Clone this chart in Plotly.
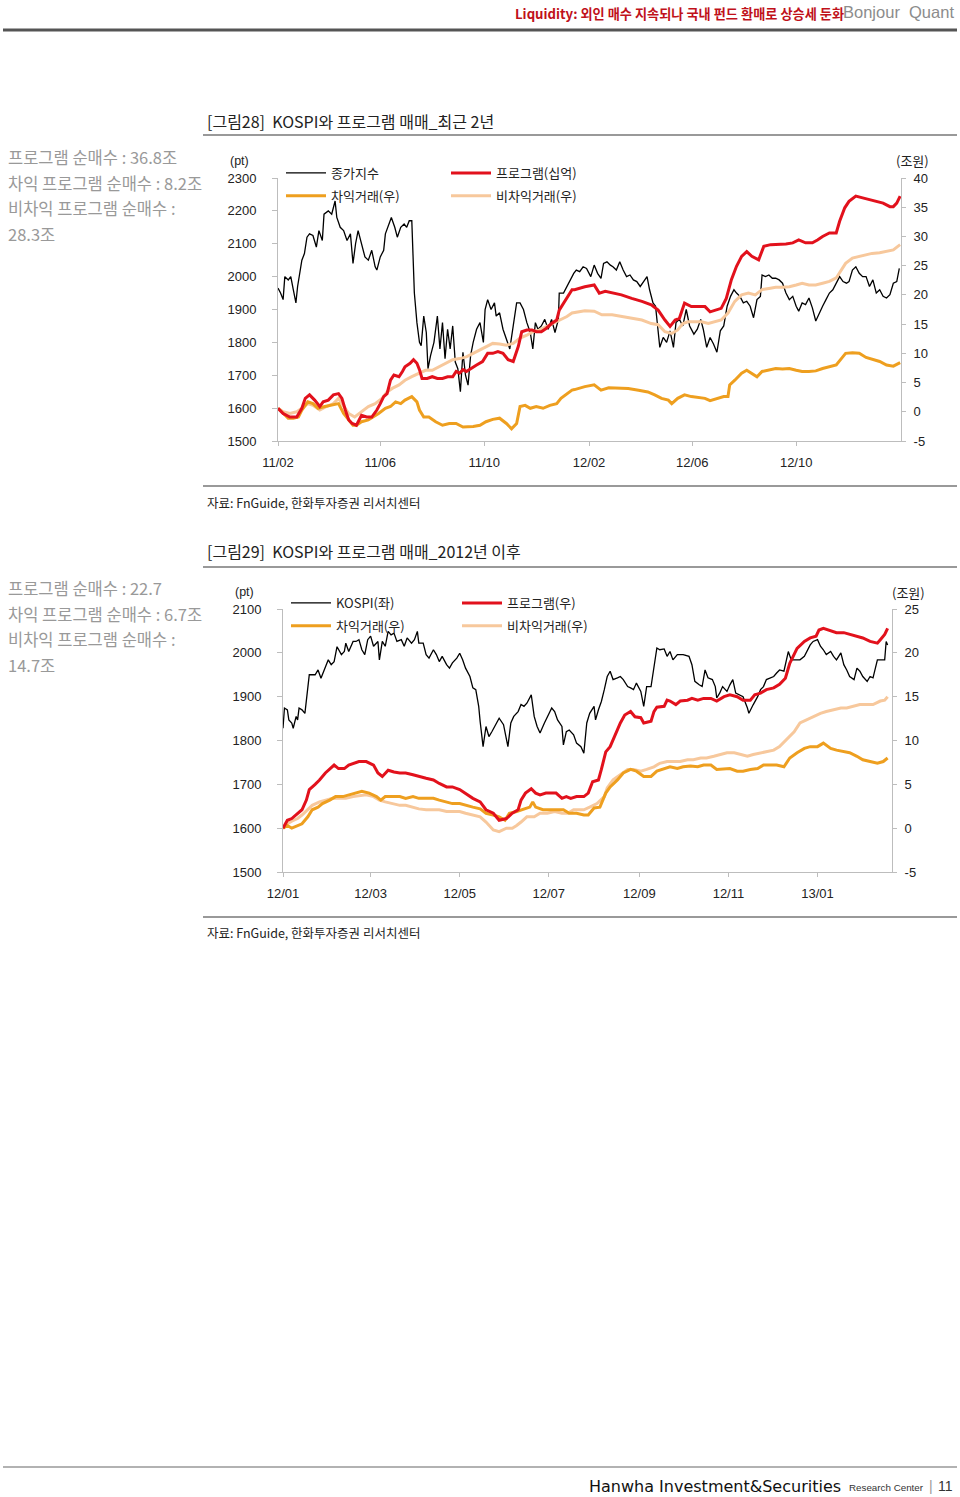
import plotly.graph_objects as go

# ---------------- DATA ----------------
# Chart 28: KOSPI (pt, left axis) and program trading (trillion won, right axis)
kospi_1 = [
    ("2011-02-01",1965),("2011-02-04",1950),("2011-02-07",1930),("2011-02-09",2000),("2011-02-13",1990),
    ("2011-02-16",2000),("2011-02-19",1960),("2011-02-22",1920),("2011-02-24",1970),("2011-02-26",2000),
    ("2011-03-01",2050),("2011-03-04",2070),("2011-03-07",2120),("2011-03-10",2130),("2011-03-14",2125),
    ("2011-03-18",2090),("2011-03-21",2140),("2011-03-25",2110),("2011-03-27",2190),("2011-04-01",2200),
    ("2011-04-05",2190),("2011-04-09",2230),("2011-04-11",2180),("2011-04-15",2150),("2011-04-19",2140),
    ("2011-04-23",2110),("2011-04-27",2130),("2011-04-30",2040),("2011-05-03",2100),("2011-05-06",2140),
    ("2011-05-10",2100),("2011-05-14",2060),("2011-05-18",2050),("2011-05-22",2080),("2011-05-26",2030),
    ("2011-05-28",2020),("2011-06-01",2060),("2011-06-05",2080),("2011-06-07",2130),("2011-06-11",2160),
    ("2011-06-14",2180),("2011-06-18",2150),("2011-06-21",2120),("2011-06-25",2150),("2011-06-29",2160),
    ("2011-07-02",2150),("2011-07-05",2170),("2011-07-08",2170),("2011-07-11",1950),("2011-07-14",1860),
    ("2011-07-17",1800),("2011-07-19",1790),("2011-07-22",1880),("2011-07-25",1830),("2011-07-27",1720),
    ("2011-07-30",1760),("2011-08-03",1800),("2011-08-07",1880),("2011-08-10",1780),("2011-08-13",1860),
    ("2011-08-16",1750),("2011-08-19",1840),("2011-08-22",1780),("2011-08-25",1850),("2011-08-28",1740),
    ("2011-08-31",1720),("2011-09-03",1650),("2011-09-06",1770),("2011-09-09",1700),("2011-09-12",1670),
    ("2011-09-15",1760),("2011-09-18",1800),("2011-09-22",1840),("2011-09-26",1860),("2011-09-30",1800),
    ("2011-10-02",1900),("2011-10-05",1930),("2011-10-09",1900),("2011-10-13",1920),("2011-10-15",1880),
    ("2011-10-19",1890),("2011-10-23",1840),("2011-10-27",1810),("2011-10-31",1780),("2011-11-04",1850),
    ("2011-11-08",1920),("2011-11-12",1920),("2011-11-16",1900),("2011-11-20",1860),("2011-11-24",1830),
    ("2011-11-27",1780),("2011-11-30",1860),("2011-12-03",1840),("2011-12-07",1850),("2011-12-11",1870),
    ("2011-12-15",1840),("2011-12-19",1870),("2011-12-23",1830),("2011-12-27",1870),("2011-12-28",1950),
    ("2012-01-02",1950),("2012-01-06",1970),("2012-01-10",1990),("2012-01-14",2010),("2012-01-17",2020),
    ("2012-01-21",2015),("2012-01-25",2030),("2012-01-29",2025),("2012-02-03",2000),("2012-02-07",2035),
    ("2012-02-11",2010),("2012-02-15",1995),("2012-02-18",2040),("2012-02-22",2045),("2012-02-26",2035),
    ("2012-02-29",2030),("2012-03-04",2020),("2012-03-08",2045),("2012-03-12",2020),("2012-03-16",2000),
    ("2012-03-20",2005),("2012-03-24",1990),("2012-03-28",1985),("2012-04-01",1970),("2012-04-05",1985),
    ("2012-04-09",2000),("2012-04-12",1960),("2012-04-16",1920),("2012-04-19",1910),("2012-04-24",1785),
    ("2012-04-28",1815),("2012-05-02",1800),("2012-05-06",1835),("2012-05-10",1785),("2012-05-13",1860),
    ("2012-05-17",1870),("2012-05-21",1850),("2012-05-25",1900),("2012-05-29",1850),("2012-06-03",1825),
    ("2012-06-07",1840),("2012-06-11",1870),("2012-06-14",1840),("2012-06-18",1785),("2012-06-22",1815),
    ("2012-06-26",1795),("2012-06-30",1770),("2012-07-04",1835),("2012-07-08",1850),("2012-07-12",1910),
    ("2012-07-16",1940),("2012-07-20",1960),("2012-07-23",1950),("2012-07-27",1940),("2012-07-31",1920),
    ("2012-08-04",1925),("2012-08-08",1910),("2012-08-12",1875),("2012-08-16",1930),("2012-08-20",1940),
    ("2012-08-22",2005),("2012-08-26",2000),("2012-08-30",2005),("2012-09-03",1995),("2012-09-07",1995),
    ("2012-09-11",1990),("2012-09-15",1980),("2012-09-19",1950),("2012-09-23",1930),("2012-09-27",1940),
    ("2012-10-01",1910),("2012-10-04",1895),("2012-10-08",1920),("2012-10-12",1915),("2012-10-16",1935),
    ("2012-10-20",1905),("2012-10-24",1865),("2012-10-28",1890),("2012-11-01",1910),("2012-11-05",1930),
    ("2012-11-09",1950),("2012-11-13",1960),("2012-11-17",1980),("2012-11-21",2000),("2012-11-25",1985),
    ("2012-11-29",1980),("2012-12-02",1985),("2012-12-06",2020),("2012-12-10",2030),("2012-12-14",2010),
    ("2012-12-18",2000),("2012-12-22",2000),("2012-12-26",1970),("2012-12-30",1990),("2013-01-03",1950),
    ("2013-01-07",1960),("2013-01-11",1940),("2013-01-15",1935),("2013-01-19",1945),("2013-01-23",1980),
    ("2013-01-27",1985),("2013-01-29",2020),("2013-01-30",2025),
]
prog_1 = [
    ("2011-02-01",0.6),("2011-02-07",-0.3),("2011-02-15",-0.9),("2011-02-23",-0.9),("2011-03-01",0.6),
    ("2011-03-05",2.3),("2011-03-10",2.9),("2011-03-16",2.0),("2011-03-22",0.9),("2011-03-26",1.7),
    ("2011-04-01",2.0),("2011-04-07",2.9),("2011-04-13",3.1),("2011-04-17",2.3),("2011-04-21",0.3),
    ("2011-04-25",-1.4),("2011-04-29",-2.0),("2011-05-04",-2.3),("2011-05-10",-0.6),("2011-05-16",-0.9),
    ("2011-05-22",-0.9),("2011-05-28",0.3),("2011-06-01",1.4),("2011-06-05",2.6),("2011-06-09",3.1),
    ("2011-06-13",5.4),("2011-06-17",6.3),("2011-06-23",6.0),("2011-06-27",6.9),("2011-06-30",7.7),
    ("2011-07-06",8.3),("2011-07-10",8.9),("2011-07-14",8.3),("2011-07-17",7.2),("2011-07-20",5.7),
    ("2011-07-26",5.7),("2011-08-01",6.0),("2011-08-07",5.7),("2011-08-13",5.7),("2011-08-19",6.0),
    ("2011-08-25",6.0),("2011-08-29",6.9),("2011-09-02",6.6),("2011-09-06",7.2),("2011-09-10",6.9),
    ("2011-09-16",7.5),("2011-09-22",8.0),("2011-09-29",8.6),("2011-10-05",10.0),("2011-10-11",10.0),
    ("2011-10-17",10.3),("2011-10-23",10.0),("2011-10-29",8.9),("2011-11-04",8.6),("2011-11-10",11.2),
    ("2011-11-14",13.7),("2011-11-20",14.0),("2011-11-26",14.0),("2011-12-01",13.7),("2011-12-07",13.7),
    ("2011-12-13",14.3),("2011-12-19",15.1),("2011-12-25",15.7),("2011-12-28",17.4),("2012-01-02",18.6),
    ("2012-01-06",19.7),("2012-01-12",20.9),("2012-01-15",20.9),("2012-01-27",21.4),("2012-02-07",21.7),
    ("2012-02-13",20.3),("2012-02-20",20.6),("2012-02-28",20.3),("2012-03-10",20.0),("2012-03-22",19.4),
    ("2012-04-03",18.9),("2012-04-14",18.3),("2012-04-22",17.4),("2012-04-30",15.7),("2012-05-06",14.6),
    ("2012-05-12",15.7),("2012-05-17",16.0),("2012-05-23",18.6),("2012-05-31",18.0),("2012-06-08",18.0),
    ("2012-06-16",18.0),("2012-06-22",17.1),("2012-06-30",17.4),("2012-07-05",17.7),("2012-07-11",19.4),
    ("2012-07-17",22.6),("2012-07-23",24.9),("2012-07-29",26.6),("2012-08-04",27.4),("2012-08-10",26.6),
    ("2012-08-18",26.0),("2012-08-24",28.3),("2012-09-01",28.6),("2012-09-11",28.6),("2012-09-19",28.7),
    ("2012-09-27",28.9),("2012-10-04",29.4),("2012-10-12",28.9),("2012-10-20",28.9),("2012-10-26",29.4),
    ("2012-11-01",30.0),("2012-11-09",30.6),("2012-11-17",30.6),("2012-11-21",32.6),("2012-11-27",34.9),
    ("2012-12-02",36.0),("2012-12-10",36.9),("2012-12-18",36.6),("2012-12-25",36.3),("2013-01-03",36.0),
    ("2013-01-11",35.7),("2013-01-19",35.1),("2013-01-23",35.1),("2013-01-27",35.7),("2013-01-31",36.9),
]
arb_1 = [
    ("2011-02-01",0.6),("2011-02-07",-0.3),("2011-02-13",-1.1),("2011-02-19",-1.1),("2011-02-25",-0.9),
    ("2011-03-01",0.3),("2011-03-08",1.7),("2011-03-14",1.4),("2011-03-20",0.6),("2011-03-28",0.9),
    ("2011-04-05",1.1),("2011-04-13",1.4),("2011-04-19",-0.3),("2011-04-25",-1.4),("2011-04-30",-2.3),
    ("2011-05-04",-2.3),("2011-05-10",-1.7),("2011-05-18",-1.4),("2011-05-24",-0.9),("2011-05-30",-0.3),
    ("2011-06-07",0.6),("2011-06-13",0.9),("2011-06-19",1.7),("2011-06-25",1.4),("2011-06-30",2.0),
    ("2011-07-08",2.6),("2011-07-14",1.7),("2011-07-17",0.3),("2011-07-22",-0.9),("2011-07-28",-0.9),
    ("2011-08-05",-1.7),("2011-08-13",-2.3),("2011-08-21",-2.0),("2011-08-29",-2.0),("2011-09-06",-2.6),
    ("2011-09-12",-2.6),("2011-09-18",-2.5),("2011-09-26",-2.3),("2011-10-03",-1.7),("2011-10-11",-1.3),
    ("2011-10-19",-1.1),("2011-10-27",-2.0),("2011-11-02",-2.9),("2011-11-08",-2.0),("2011-11-12",0.9),
    ("2011-11-18",1.1),("2011-11-24",0.6),("2011-12-01",0.9),("2011-12-09",0.6),("2011-12-17",1.1),
    ("2011-12-25",1.4),("2011-12-30",2.3),("2012-01-06",3.1),("2012-01-12",3.7),("2012-01-15",3.8),
    ("2012-01-27",4.3),("2012-02-07",4.6),("2012-02-15",3.7),("2012-02-24",4.1),("2012-03-06",4.0),
    ("2012-03-18",4.0),("2012-03-30",3.7),("2012-04-10",3.4),("2012-04-18",2.9),("2012-04-26",2.3),
    ("2012-05-04",2.0),("2012-05-08",1.4),("2012-05-15",2.3),("2012-05-23",2.9),("2012-05-31",2.6),
    ("2012-06-08",2.5),("2012-06-16",2.3),("2012-06-22",1.9),("2012-06-30",2.3),("2012-07-08",2.6),
    ("2012-07-13",2.6),("2012-07-15",4.6),("2012-07-21",5.4),("2012-07-29",6.6),("2012-08-04",7.1),
    ("2012-08-10",6.6),("2012-08-16",6.0),("2012-08-22",6.9),("2012-08-30",7.1),("2012-09-07",7.4),
    ("2012-09-15",7.3),("2012-09-23",7.4),("2012-10-01",7.1),("2012-10-08",6.9),("2012-10-16",6.9),
    ("2012-10-24",7.0),("2012-11-01",7.4),("2012-11-09",7.7),("2012-11-17",8.0),("2012-11-23",9.1),
    ("2012-11-28",10.0),("2012-12-06",10.1),("2012-12-14",10.0),("2012-12-22",9.3),("2012-12-29",9.0),
    ("2013-01-07",8.6),("2013-01-15",8.0),("2013-01-23",7.8),("2013-01-31",8.4),
]
nonarb_1 = [
    ("2011-02-01",0.6),("2011-02-07",0.0),("2011-02-15",-0.3),("2011-02-23",0.0),("2011-03-01",0.6),
    ("2011-03-08",1.4),("2011-03-14",1.1),("2011-03-22",0.3),("2011-03-30",0.9),("2011-04-07",1.4),
    ("2011-04-13",2.3),("2011-04-19",0.9),("2011-04-25",-0.3),("2011-05-02",-0.9),("2011-05-10",0.0),
    ("2011-05-18",0.9),("2011-05-26",1.4),("2011-06-03",2.3),("2011-06-09",3.4),("2011-06-15",4.0),
    ("2011-06-23",4.6),("2011-06-30",5.4),("2011-07-08",6.0),("2011-07-16",6.6),("2011-07-24",7.1),
    ("2011-08-01",7.1),("2011-08-09",7.7),("2011-08-17",8.3),("2011-08-25",8.9),("2011-09-02",9.1),
    ("2011-09-10",9.4),("2011-09-18",10.0),("2011-09-26",10.6),("2011-10-03",11.1),("2011-10-11",11.7),
    ("2011-10-19",11.6),("2011-10-27",11.4),("2011-11-04",11.7),("2011-11-12",12.6),("2011-11-20",13.1),
    ("2011-11-27",13.7),("2011-12-05",14.0),("2011-12-13",14.6),("2011-12-21",15.1),("2011-12-28",15.7),
    ("2012-01-06",16.3),("2012-01-12",16.9),("2012-01-15",17.0),("2012-01-27",17.3),("2012-02-07",17.2),
    ("2012-02-16",16.6),("2012-02-28",16.6),("2012-03-10",16.3),("2012-03-22",16.0),("2012-04-03",15.7),
    ("2012-04-14",15.1),("2012-04-22",14.9),("2012-04-30",13.7),("2012-05-08",13.4),("2012-05-15",14.0),
    ("2012-05-21",15.1),("2012-05-27",15.4),("2012-06-04",15.4),("2012-06-12",15.4),("2012-06-20",15.1),
    ("2012-06-28",15.4),("2012-07-05",15.7),("2012-07-13",16.9),("2012-07-21",18.9),("2012-07-29",20.0),
    ("2012-08-06",20.3),("2012-08-14",20.0),("2012-08-22",20.9),("2012-08-30",21.1),("2012-09-07",21.3),
    ("2012-09-15",21.3),("2012-09-23",21.4),("2012-10-01",21.7),("2012-10-08",22.0),("2012-10-16",21.7),
    ("2012-10-24",21.7),("2012-11-01",22.0),("2012-11-09",22.3),("2012-11-17",22.9),("2012-11-23",24.3),
    ("2012-11-28",25.4),("2012-12-06",26.3),("2012-12-14",26.6),("2012-12-22",26.9),("2012-12-29",27.1),
    ("2013-01-07",27.2),("2013-01-15",27.5),("2013-01-23",27.7),("2013-01-31",28.6),
]

# Chart 29: since 2012
kospi_2 = [
    ("2012-01-01",1828),("2012-01-02",1874),("2012-01-04",1870),("2012-01-05",1847),("2012-01-07",1840),
    ("2012-01-08",1828),("2012-01-10",1855),("2012-01-11",1847),("2012-01-12",1874),("2012-01-14",1870),
    ("2012-01-16",1862),("2012-01-17",1897),("2012-01-19",1950),("2012-01-23",1950),("2012-01-25",1961),
    ("2012-01-27",1942),("2012-01-30",1965),("2012-02-01",1984),("2012-02-03",1973),("2012-02-05",1980),
    ("2012-02-07",2014),("2012-02-10",1996),("2012-02-12",2003),("2012-02-13",2022),("2012-02-15",2003),
    ("2012-02-18",2026),("2012-02-20",2026),("2012-02-22",2030),("2012-02-24",2007),("2012-02-26",1996),
    ("2012-02-28",2030),("2012-03-01",2038),("2012-03-03",2015),("2012-03-06",2026),("2012-03-07",1984),
    ("2012-03-09",2026),("2012-03-11",2015),("2012-03-13",2049),("2012-03-15",2041),("2012-03-17",2045),
    ("2012-03-19",2026),("2012-03-22",2030),("2012-03-24",2015),("2012-03-26",2034),("2012-03-29",2022),
    ("2012-03-31",2030),("2012-04-02",2049),("2012-04-03",2022),("2012-04-06",2022),("2012-04-08",1996),
    ("2012-04-10",1988),("2012-04-13",2007),("2012-04-15",1996),("2012-04-17",1980),("2012-04-19",1992),
    ("2012-04-22",1973),("2012-04-24",1965),("2012-04-26",1977),("2012-04-29",1988),("2012-05-01",1999),
    ("2012-05-03",1984),("2012-05-05",1965),("2012-05-08",1946),("2012-05-10",1920),("2012-05-12",1916),
    ("2012-05-14",1878),("2012-05-15",1843),("2012-05-17",1786),("2012-05-19",1832),("2012-05-21",1809),
    ("2012-05-23",1820),("2012-05-26",1840),("2012-05-28",1851),("2012-05-31",1836),("2012-06-01",1817),
    ("2012-06-03",1786),("2012-06-05",1840),("2012-06-07",1855),("2012-06-10",1866),("2012-06-12",1882),
    ("2012-06-14",1878),("2012-06-16",1885),("2012-06-19",1904),("2012-06-21",1855),("2012-06-23",1832),
    ("2012-06-25",1817),("2012-06-28",1840),("2012-06-30",1855),("2012-07-03",1874),("2012-07-05",1866),
    ("2012-07-07",1847),("2012-07-10",1832),("2012-07-11",1790),("2012-07-13",1820),("2012-07-15",1824),
    ("2012-07-18",1813),("2012-07-20",1794),("2012-07-23",1786),("2012-07-25",1771),("2012-07-27",1840),
    ("2012-07-29",1862),("2012-08-01",1878),("2012-08-02",1847),("2012-08-04",1870),("2012-08-06",1889),
    ("2012-08-08",1916),("2012-08-10",1946),("2012-08-12",1958),("2012-08-14",1939),("2012-08-17",1943),
    ("2012-08-19",1946),("2012-08-21",1939),("2012-08-24",1923),("2012-08-26",1920),("2012-08-28",1916),
    ("2012-08-30",1931),("2012-09-02",1912),("2012-09-04",1878),("2012-09-06",1923),("2012-09-09",1923),
    ("2012-09-11",1973),("2012-09-13",2011),("2012-09-15",2007),("2012-09-18",2009),("2012-09-20",1992),
    ("2012-09-22",2003),("2012-09-24",1984),("2012-09-27",1996),("2012-10-01",1996),("2012-10-05",1992),
    ("2012-10-07",1973),("2012-10-09",1935),("2012-10-12",1927),("2012-10-14",1923),("2012-10-16",1961),
    ("2012-10-18",1943),("2012-10-21",1939),("2012-10-23",1923),("2012-10-24",1897),("2012-10-26",1908),
    ("2012-10-28",1923),("2012-10-31",1912),("2012-11-02",1927),("2012-11-04",1939),("2012-11-06",1908),
    ("2012-11-09",1904),("2012-11-11",1900),("2012-11-14",1874),("2012-11-15",1862),("2012-11-18",1882),
    ("2012-11-21",1900),("2012-11-23",1916),("2012-11-25",1923),("2012-11-27",1939),("2012-11-30",1943),
    ("2012-12-02",1946),("2012-12-04",1954),("2012-12-06",1961),("2012-12-09",1958),("2012-12-11",1992),
    ("2012-12-12",2003),("2012-12-14",1984),("2012-12-17",1984),("2012-12-20",1984),("2012-12-23",1992),
    ("2012-12-25",2007),("2012-12-27",2018),("2012-12-29",2026),("2013-01-01",2030),("2013-01-03",2015),
    ("2013-01-05",2007),("2013-01-07",1996),("2013-01-10",2003),("2013-01-12",1992),("2013-01-14",1984),
    ("2013-01-17",2000),("2013-01-19",1973),("2013-01-21",1961),("2013-01-23",1946),("2013-01-26",1939),
    ("2013-01-28",1965),("2013-01-30",1958),("2013-02-01",1946),("2013-02-04",1935),("2013-02-06",1946),
    ("2013-02-08",1943),("2013-02-11",1984),("2013-02-13",1984),("2013-02-16",1984),("2013-02-17",2026),
    ("2013-02-18",2018),
]
prog_2 = [
    ("2012-01-01",0.0),("2012-01-04",0.9),("2012-01-07",1.1),("2012-01-11",1.7),("2012-01-14",2.1),
    ("2012-01-17",3.2),("2012-01-19",4.4),("2012-01-23",5.0),("2012-01-26",5.5),("2012-01-30",6.3),
    ("2012-02-02",6.8),("2012-02-05",7.2),("2012-02-08",6.8),("2012-02-12",6.8),("2012-02-15",7.2),
    ("2012-02-19",7.4),("2012-02-22",7.6),("2012-02-27",7.6),("2012-03-03",7.2),("2012-03-06",6.3),
    ("2012-03-09",5.9),("2012-03-13",6.6),("2012-03-17",6.4),("2012-03-21",6.3),("2012-03-25",6.3),
    ("2012-03-30",6.1),("2012-04-03",5.9),("2012-04-08",5.7),("2012-04-13",5.5),("2012-04-17",5.1),
    ("2012-04-22",4.7),("2012-04-26",4.7),("2012-05-01",4.4),("2012-05-05",4.0),("2012-05-10",3.4),
    ("2012-05-15",3.0),("2012-05-19",2.1),("2012-05-24",1.7),("2012-05-28",0.9),("2012-06-02",1.1),
    ("2012-06-06",1.7),("2012-06-10",2.1),("2012-06-12",3.2),("2012-06-15",4.0),("2012-06-19",4.5),
    ("2012-06-22",4.0),("2012-06-25",3.8),("2012-06-29",4.0),("2012-07-03",4.0),("2012-07-06",4.0),
    ("2012-07-10",3.4),("2012-07-13",3.6),("2012-07-16",3.4),("2012-07-20",3.6),("2012-07-25",3.6),
    ("2012-07-28",4.0),("2012-07-31",5.3),("2012-08-04",5.5),("2012-08-06",6.7),("2012-08-09",8.7),
    ("2012-08-12",9.3),("2012-08-16",10.8),("2012-08-19",12.0),("2012-08-22",12.9),("2012-08-26",13.3),
    ("2012-08-29",12.7),("2012-09-02",12.6),("2012-09-04",12.0),("2012-09-09",12.2),("2012-09-11",13.3),
    ("2012-09-13",13.8),("2012-09-18",13.9),("2012-09-20",14.6),("2012-09-22",14.5),("2012-09-26",14.1),
    ("2012-09-29",14.5),("2012-10-04",14.6),("2012-10-07",14.8),("2012-10-11",14.6),("2012-10-15",14.8),
    ("2012-10-20",14.8),("2012-10-24",14.5),("2012-10-29",15.0),("2012-11-02",15.2),("2012-11-07",15.0),
    ("2012-11-11",14.6),("2012-11-16",14.6),("2012-11-19",15.2),("2012-11-23",15.4),("2012-11-27",15.8),
    ("2012-12-02",16.0),("2012-12-06",16.4),("2012-12-10",17.1),("2012-12-13",18.8),("2012-12-18",20.5),
    ("2012-12-23",21.3),("2012-12-27",21.7),("2012-12-31",21.9),("2013-01-02",22.6),("2013-01-05",22.8),
    ("2013-01-09",22.6),("2013-01-12",22.4),("2013-01-14",22.3),("2013-01-19",22.3),("2013-01-23",22.1),
    ("2013-01-28",21.9),("2013-02-01",21.7),("2013-02-06",21.3),("2013-02-11",21.1),("2013-02-13",21.5),
    ("2013-02-16",22.1),("2013-02-18",22.8),
]
arb_2 = [
    ("2012-01-01",0.0),("2012-01-04",0.3),("2012-01-07",0.0),("2012-01-11",0.3),("2012-01-14",0.5),
    ("2012-01-18",1.3),("2012-01-21",2.1),("2012-01-25",2.4),("2012-01-28",2.8),("2012-02-02",3.2),
    ("2012-02-06",3.6),("2012-02-11",3.6),("2012-02-15",3.8),("2012-02-20",4.0),("2012-02-24",4.2),
    ("2012-02-29",4.0),("2012-03-05",3.6),("2012-03-08",3.2),("2012-03-11",3.6),("2012-03-16",3.6),
    ("2012-03-21",3.6),("2012-03-25",3.4),("2012-03-30",3.6),("2012-04-03",3.4),("2012-04-08",3.4),
    ("2012-04-13",3.4),("2012-04-17",3.2),("2012-04-22",3.0),("2012-04-26",2.8),("2012-05-01",2.8),
    ("2012-05-05",2.6),("2012-05-10",2.4),("2012-05-15",2.2),("2012-05-19",1.7),("2012-05-24",1.5),
    ("2012-05-28",1.3),("2012-06-01",0.9),("2012-06-04",1.7),("2012-06-09",1.9),("2012-06-13",2.1),
    ("2012-06-18",2.4),("2012-06-20",3.0),("2012-06-22",2.4),("2012-06-27",2.1),("2012-07-02",2.1),
    ("2012-07-06",2.1),("2012-07-11",2.1),("2012-07-15",1.7),("2012-07-20",1.7),("2012-07-25",1.5),
    ("2012-07-28",1.5),("2012-08-01",2.3),("2012-08-05",2.4),("2012-08-09",4.0),("2012-08-12",4.7),
    ("2012-08-17",5.5),("2012-08-21",6.3),("2012-08-26",6.7),("2012-08-30",6.5),("2012-09-04",5.9),
    ("2012-09-09",5.9),("2012-09-13",6.5),("2012-09-18",6.8),("2012-09-22",7.0),("2012-09-27",6.8),
    ("2012-10-01",7.0),("2012-10-06",7.1),("2012-10-11",7.0),("2012-10-15",7.2),("2012-10-20",7.2),
    ("2012-10-24",6.7),("2012-10-29",6.8),("2012-11-02",6.8),("2012-11-07",6.5),("2012-11-11",6.5),
    ("2012-11-16",6.7),("2012-11-21",6.8),("2012-11-25",7.2),("2012-11-30",7.2),("2012-12-04",7.2),
    ("2012-12-09",7.0),("2012-12-13",8.0),("2012-12-18",8.6),("2012-12-23",9.1),("2012-12-27",9.3),
    ("2013-01-01",9.3),("2013-01-05",9.7),("2013-01-10",9.1),("2013-01-14",8.9),("2013-01-19",8.7),
    ("2013-01-23",8.6),("2013-01-28",8.2),("2013-02-01",7.8),("2013-02-06",7.6),("2013-02-11",7.4),
    ("2013-02-15",7.6),("2013-02-18",8.0),
]
nonarb_2 = [
    ("2012-01-01",0.0),("2012-01-04",0.5),("2012-01-07",0.8),("2012-01-11",1.1),("2012-01-14",1.5),
    ("2012-01-18",2.1),("2012-01-21",2.6),("2012-01-26",3.0),("2012-01-31",3.2),("2012-02-04",3.4),
    ("2012-02-08",3.4),("2012-02-13",3.4),("2012-02-18",3.6),("2012-02-22",3.7),("2012-02-27",3.8),
    ("2012-03-03",3.6),("2012-03-07",3.2),("2012-03-11",3.0),("2012-03-16",2.8),("2012-03-21",2.6),
    ("2012-03-25",2.6),("2012-03-30",2.4),("2012-04-03",2.2),("2012-04-08",2.1),("2012-04-13",2.1),
    ("2012-04-17",2.1),("2012-04-22",1.9),("2012-04-26",1.9),("2012-05-01",1.9),("2012-05-05",1.7),
    ("2012-05-10",1.5),("2012-05-15",1.3),("2012-05-19",0.7),("2012-05-24",-0.2),("2012-05-28",-0.4),
    ("2012-06-02",0.0),("2012-06-06",0.0),("2012-06-09",0.3),("2012-06-12",0.7),("2012-06-16",1.3),
    ("2012-06-21",1.3),("2012-06-25",1.7),("2012-06-30",1.7),("2012-07-05",1.9),("2012-07-10",1.7),
    ("2012-07-14",1.7),("2012-07-18",2.1),("2012-07-20",2.1),("2012-07-25",2.1),("2012-07-29",2.4),
    ("2012-08-03",2.8),("2012-08-08",3.6),("2012-08-10",4.6),("2012-08-14",5.5),("2012-08-19",6.1),
    ("2012-08-24",6.7),("2012-08-28",6.7),("2012-09-02",6.5),("2012-09-06",6.7),("2012-09-11",7.0),
    ("2012-09-15",7.4),("2012-09-20",7.6),("2012-09-24",7.6),("2012-09-29",7.6),("2012-10-04",7.8),
    ("2012-10-08",7.8),("2012-10-13",8.0),("2012-10-17",8.0),("2012-10-22",8.2),("2012-10-26",8.4),
    ("2012-10-31",8.6),("2012-11-05",8.6),("2012-11-09",8.4),("2012-11-14",8.2),("2012-11-18",8.4),
    ("2012-11-23",8.6),("2012-11-27",8.7),("2012-12-02",8.9),("2012-12-06",9.3),("2012-12-11",10.1),
    ("2012-12-16",11.0),("2012-12-20",12.0),("2012-12-25",12.4),("2012-12-29",12.7),("2013-01-03",13.1),
    ("2013-01-07",13.3),("2013-01-12",13.5),("2013-01-17",13.7),("2013-01-21",13.7),("2013-01-26",13.9),
    ("2013-01-30",14.1),("2013-02-04",14.1),("2013-02-08",14.1),("2013-02-13",14.5),("2013-02-16",14.6),
    ("2013-02-18",15.0),
]

# Axis ticks
x1_tickvals = ["2011-02-01","2011-06-01","2011-10-01","2012-02-01","2012-06-01","2012-10-01"]
x1_ticktext = ["11/02","11/06","11/10","12/02","12/06","12/10"]
x2_tickvals = ["2012-01-01","2012-03-01","2012-05-01","2012-07-01","2012-09-01","2012-11-01","2013-01-01"]
x2_ticktext = ["12/01","12/03","12/05","12/07","12/09","12/11","13/01"]
y1_left_ticks = [1500,1600,1700,1800,1900,2000,2100,2200,2300]
y1_right_ticks = [-5,0,5,10,15,20,25,30,35,40]
y2_left_ticks = [1500,1600,1700,1800,1900,2000,2100]
y2_right_ticks = [-5,0,5,10,15,20,25]

# ---------------- STYLE ----------------
W, H = 960, 1497
KR = "Noto Sans CJK KR"
NUM = "Liberation Sans, Arial, " + KR
C_BLACK, C_RED, C_ORANGE, C_LIGHT = "#000000", "#E2111C", "#EE9F1F", "#F7C89C"
AXC = "#bdbdbd"

def px(x):
    return x / W

def py(y):
    return 1 - y / H

def xs(s):
    return [d for d, _ in s]

def ys(s):
    return [v for _, v in s]

fig = go.Figure()

def add_series(series, name, color, width, xa, ya, legend, rank):
    fig.add_trace(go.Scatter(
        x=xs(series), y=ys(series), name=name, mode="lines",
        line=dict(color=color, width=width), xaxis=xa, yaxis=ya,
        legend=legend, legendgroup=name + xa, legendrank=rank, hoverinfo="skip"))

# chart 28
add_series(kospi_1, "종가지수", C_BLACK, 1.3, "x", "y", "legend", 1)
add_series(nonarb_1, "비차익거래(우)", C_LIGHT, 3, "x", "y2", "legend2", 2)
add_series(arb_1, "차익거래(우)", C_ORANGE, 3, "x", "y2", "legend", 2)
add_series(prog_1, "프로그램(십억)", C_RED, 3, "x", "y2", "legend2", 1)
# chart 29
add_series(kospi_2, "KOSPI(좌)", C_BLACK, 1.3, "x2", "y3", "legend3", 1)
add_series(nonarb_2, "비차익거래(우)", C_LIGHT, 3, "x2", "y4", "legend4", 2)
add_series(arb_2, "차익거래(우)", C_ORANGE, 3, "x2", "y4", "legend3", 2)
add_series(prog_2, "프로그램(우)", C_RED, 3, "x2", "y4", "legend4", 1)

tickfont = dict(family=NUM, size=13, color="#222")
common_axis = dict(showline=True, linecolor=AXC, linewidth=1, ticks="outside",
                   tickcolor=AXC, showgrid=False, zeroline=False, tickfont=tickfont,
                   fixedrange=True, automargin=False)

def legend_box(x, y):
    return dict(x=px(x), y=py(y), xanchor="left", yanchor="top", orientation="v",
                bgcolor="rgba(0,0,0,0)", borderwidth=0, tracegroupgap=3,
                font=dict(family=KR, size=13, color="#222"), itemwidth=40)

fig.update_layout(
    template="none",
    width=W, height=H, autosize=False,
    margin=dict(l=0, r=0, t=0, b=0, pad=0, autoexpand=False),
    paper_bgcolor="white", plot_bgcolor="white",
    showlegend=True,
    xaxis=dict(domain=[px(278), px(901)], anchor="y", type="date",
               range=["2011-02-01", "2013-02-01"], tickvals=x1_tickvals, ticktext=x1_ticktext,
               ticklen=4, ticklabelstandoff=5, **common_axis),
    yaxis=dict(domain=[py(441), py(178)], anchor="x", range=[1500, 2300],
               tickvals=y1_left_ticks, ticklen=5, ticklabelstandoff=13, **common_axis),
    yaxis2=dict(overlaying="y", side="right", anchor="x", range=[-5, 40],
                tickvals=y1_right_ticks, ticktext=[str(v) for v in y1_right_ticks],
                ticklen=4, ticklabelstandoff=5, **common_axis),
    xaxis2=dict(domain=[px(283), px(892)], anchor="y3", type="date",
                range=["2012-01-01", "2013-02-21"], tickvals=x2_tickvals, ticktext=x2_ticktext,
                ticklen=4, ticklabelstandoff=5, **common_axis),
    yaxis3=dict(domain=[py(872), py(609)], anchor="x2", range=[1500, 2100],
                tickvals=y2_left_ticks, ticklen=5, ticklabelstandoff=13, **common_axis),
    yaxis4=dict(overlaying="y3", side="right", anchor="x2", range=[-5, 25],
                tickvals=y2_right_ticks, ticktext=[str(v) for v in y2_right_ticks],
                ticklen=4, ticklabelstandoff=5, **common_axis),
    legend=legend_box(281, 158),
    legend2=legend_box(446, 158),
    legend3=legend_box(286, 588),
    legend4=legend_box(457, 588),
)

# ---------------- page furniture ----------------
ann = []

def text(x, y, s, size, color="#222", family=KR, xanchor="left", yanchor="middle"):
    ann.append(dict(x=px(x), y=py(y), xref="paper", yref="paper", text=s, showarrow=False,
                    xanchor=xanchor, yanchor=yanchor, font=dict(family=family, size=size, color=color)))

# header
text(846, 13, "<b>Liquidity: 외인 매수 지속되나 국내 펀드 환매로 상승세 둔화</b>", 13.2, "#C0111A", xanchor="right")
text(956, 12, "Bonjour  Quant", 16.5, "#8c8c8c", family="Liberation Sans", xanchor="right")

# chart 28 side notes / titles
side1 = ["프로그램 순매수 : 36.8조", "차익 프로그램 순매수 : 8.2조", "비차익 프로그램 순매수 :", "28.3조"]
for i, s in enumerate(side1):
    text(6, 157 + i * 25.7, s, 16.5, "#999999")
text(205, 121, "[그림28]  KOSPI와 프로그램 매매_최근 2년", 16, "#222")
text(239, 161, "(pt)", 12.5, "#222", family=NUM, xanchor="center")
text(912, 161, "(조원)", 13, "#222", xanchor="center")
text(205, 502, "자료: FnGuide, 한화투자증권 리서치센터", 12.5, "#222")

# chart 29
side2 = ["프로그램 순매수 : 22.7", "차익 프로그램 순매수 : 6.7조", "비차익 프로그램 순매수 :", "14.7조"]
for i, s in enumerate(side2):
    text(6, 588 + i * 25.7, s, 16.5, "#999999")
text(205, 551, "[그림29]  KOSPI와 프로그램 매매_2012년 이후", 16, "#222")
text(245, 592, "(pt)", 12.5, "#222", family=NUM, xanchor="center")
text(908, 592, "(조원)", 13, "#222", xanchor="center")
text(205, 933, "자료: FnGuide, 한화투자증권 리서치센터", 12.5, "#222")

# footer
text(843, 1486, "Hanwha Investment&amp;Securities", 16, "#111", family="DejaVu Sans, Liberation Sans", xanchor="right")
text(847, 1487, "Research Center", 9.8, "#333", family="Liberation Sans")
text(931, 1486, "|", 14, "#999", family=NUM, xanchor="center")
text(955, 1486, "11", 14, "#333", family=NUM, xanchor="right")

fig.update_layout(annotations=ann)

shapes = []

def hline(x0, x1, y, color, width):
    shapes.append(dict(type="line", xref="paper", yref="paper", x0=px(x0), x1=px(x1),
                       y0=py(y), y1=py(y), line=dict(color=color, width=width)))

hline(3, 957, 30, "#555555", 3)
hline(203, 957, 135, "#777777", 1.5)
hline(203, 957, 486, "#777777", 1.5)
hline(203, 957, 567, "#777777", 1.5)
hline(203, 957, 917, "#777777", 1.5)
hline(3, 957, 1467, "#999999", 1.5)
fig.update_layout(shapes=shapes)

fig.write_html("out.html",
               config={"displayModeBar": False, "staticPlot": True},
               post_script="document.body.style.margin='0';document.body.style.overflow='hidden';")
